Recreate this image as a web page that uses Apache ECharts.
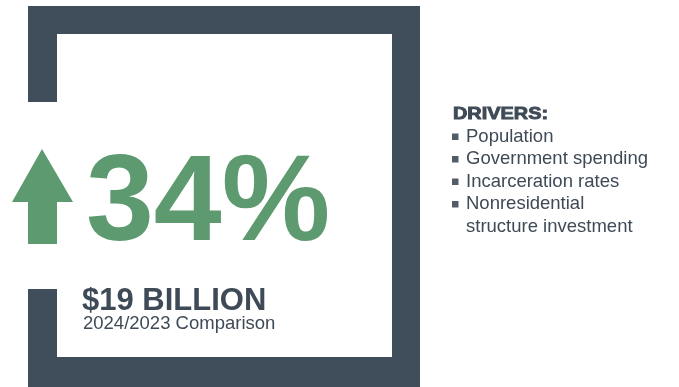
<!DOCTYPE html>
<html>
<head>
<meta charset="utf-8">
<style>
  html, body { margin: 0; padding: 0; background: #ffffff; }
  #main { width: 679px; height: 387px; }
</style>
<script src="https://cdn.jsdelivr.net/npm/echarts@6/dist/echarts.min.js"></script>
</head>
<body>
<div id="main"></div>
<script>
// Headline figures
const changePct = [34];
const changeAmount = ['$19 BILLION'];
const periodLabel = ['2024/2023 Comparison'];

// Growth drivers (a line break marks a wrapped item)
const driversTitle = ['DRIVERS:'];
const drivers = ['Population', 'Government spending', 'Incarceration rates', 'Nonresidential\nstructure investment'];

const FRAME = '#404d5a';
const GREEN = '#5e9a6f';
const INK = '#3f4a57';
const FONT = '"Liberation Sans", Arial, sans-serif';

const chart = echarts.init(document.getElementById('main'), null, { renderer: 'canvas' });

const elements = [];

// Open frame: top, right, bottom bars plus two left stubs leaving a gap for the arrow
[
  [28, 6, 392, 28],
  [392, 6, 28, 381],
  [28, 357, 392, 30],
  [28, 6, 29, 96],
  [28, 289, 29, 98]
].forEach(function (r) {
  elements.push({ type: 'rect', shape: { x: r[0], y: r[1], width: r[2], height: r[3] }, style: { fill: FRAME } });
});

// Up arrow
elements.push({
  type: 'polygon',
  shape: { points: [[42, 149], [73, 202], [57, 202], [57, 244], [28, 244], [28, 202], [12, 202]] },
  style: { fill: GREEN }
});

// Percentage change
elements.push({
  type: 'text', x: 86, y: 206,
  style: { text: changePct[0] + '%', font: 'bold 122px ' + FONT, fill: GREEN, textVerticalAlign: 'middle' }
});

// Dollar change and comparison period
elements.push({
  type: 'text', x: 82, y: 301,
  style: { text: changeAmount[0], font: 'bold 31px ' + FONT, fill: INK, textVerticalAlign: 'middle' }
});
elements.push({
  type: 'text', x: 83, y: 324,
  style: { text: periodLabel[0], font: '18.5px ' + FONT, fill: INK, textVerticalAlign: 'middle' }
});

// Drivers list
elements.push({
  type: 'text', x: 453, y: 114, scaleX: 1.17, originX: 0,
  style: { text: driversTitle[0], font: 'bold 17px ' + FONT, fill: INK, stroke: INK, lineWidth: 0.9, textVerticalAlign: 'middle' }
});

let lineY = 136.5;
const lineStep = 22.5;
drivers.forEach(function (item) {
  const lines = item.split('\n');
  elements.push({
    type: 'rect', shape: { x: 452, y: lineY - 3, width: 6.5, height: 6.5 }, style: { fill: '#535d69' }
  });
  lines.forEach(function (ln) {
    elements.push({
      type: 'text', x: 466, y: lineY,
      style: { text: ln, font: '18.5px ' + FONT, fill: INK, textVerticalAlign: 'middle' }
    });
    lineY += lineStep;
  });
});

chart.setOption({
  backgroundColor: '#ffffff',
  animation: false,
  graphic: { elements: elements }
});
</script>
</body>
</html>
